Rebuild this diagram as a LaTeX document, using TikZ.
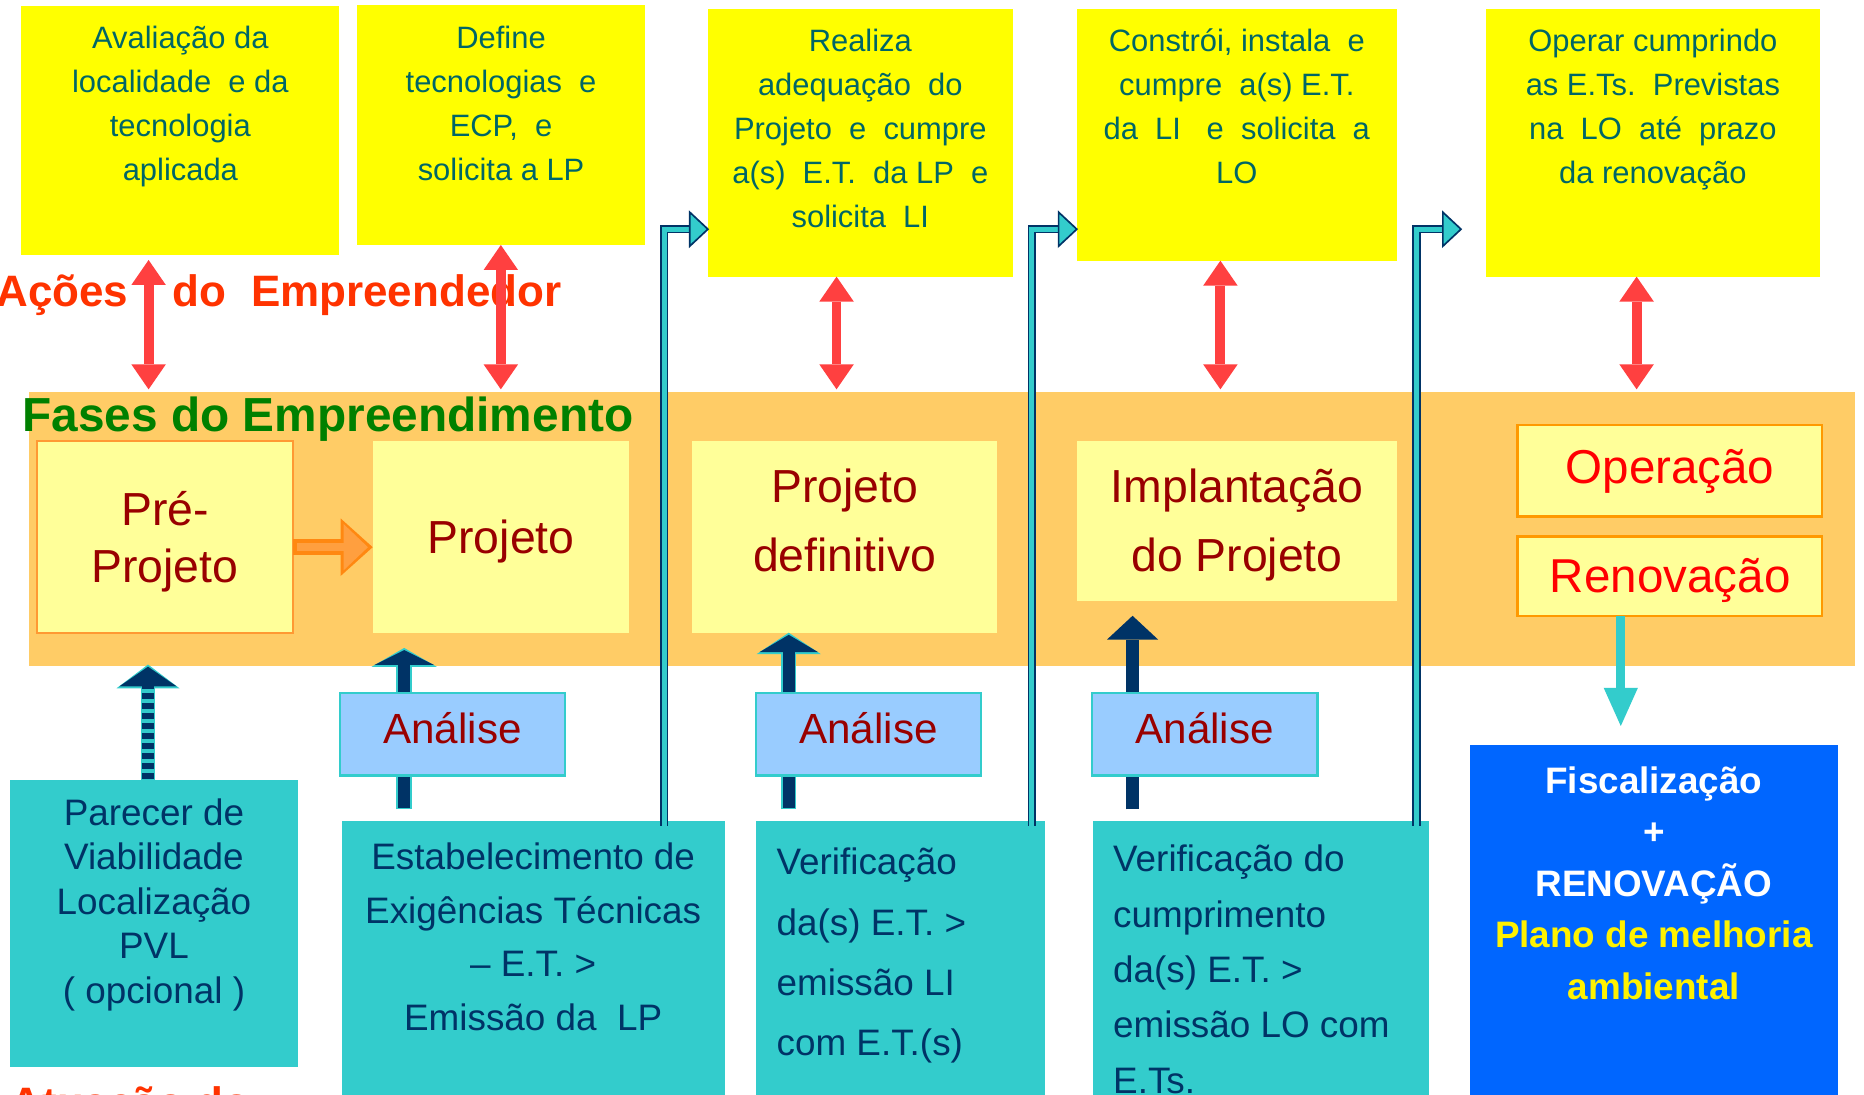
\documentclass[tikz,border=0pt]{standalone}
\usepackage{fontspec}
\setmainfont{Liberation Sans}
\usetikzlibrary{arrows.meta,calc}
\definecolor{ytop}{HTML}{FFFF00}
\definecolor{ttxt}{HTML}{006666}
\definecolor{rarr}{HTML}{FF4040}
\definecolor{ttl}{HTML}{FF3300}
\definecolor{bandc}{HTML}{FFCC66}
\definecolor{fgreen}{HTML}{008000}
\definecolor{lyel}{HTML}{FFFF99}
\definecolor{dred}{HTML}{990000}
\definecolor{obord}{HTML}{FF9933}
\definecolor{obord2}{HTML}{FF9900}
\definecolor{lblue}{HTML}{99CCFF}
\definecolor{tealc}{HTML}{33CCCC}
\definecolor{navy}{HTML}{003366}
\definecolor{bblue}{HTML}{0066FF}
\definecolor{oarrout}{HTML}{FF8811}
\definecolor{oarrin}{HTML}{FF9F3F}
\definecolor{pred}{HTML}{FF0000}
\tikzset{
  box/.style={anchor=north west, inner sep=0pt, outer sep=0pt},
  txt/.style={inner sep=0pt, outer sep=0pt},
  toptxt/.style={txt, text=ttxt, font=\fontsize{26}{37}\selectfont, align=center, anchor=north},
  phtxt/.style={txt, text=dred, align=center},
  antxt/.style={txt, text=dred, anchor=base, font=\fontsize{35.5}{40}\selectfont},
  bottxt/.style={txt, text=navy},
  redarr/.style={draw=rarr, line width=8.3pt, {Triangle[width=29pt,length=21pt,line width=0pt]}-{Triangle[width=29pt,length=21pt,line width=0pt]}},
  bracket/.style={draw=navy, line width=1.4pt, double=tealc, double distance=4.2pt, line join=miter},
  brhead/.style={draw=navy, fill=tealc, line width=1.4pt, line join=miter},
}
\begin{document}
\begin{tikzpicture}[x=1pt,y=-1pt]
\useasboundingbox (0,0) rectangle (1568,921);
\clip (0,0) rectangle (1568,921);
\fill[white] (0,0) rectangle (1568,921);

% ---------- top action boxes
\node[box, fill=ytop, minimum width=267.4pt, minimum height=209.5pt] (t1) at (18,5) {};
\node[box, fill=ytop, minimum width=242.2pt, minimum height=201.9pt] (t2) at (300.4,4.2) {};
\node[box, fill=ytop, minimum width=256.5pt, minimum height=224.8pt] (t3) at (595.5,7.9) {};
\node[box, fill=ytop, minimum width=269.2pt, minimum height=211.4pt] (t4) at (905.8,7.9) {};
\node[box, fill=ytop, minimum width=280.8pt, minimum height=224.8pt] (t5) at (1250,7.9) {};
\node[toptxt] (t1x) at (151.7,14.7) {\strut Avaliação da\\\strut localidade\ \ e da\\\strut tecnologia\\\strut aplicada};
\node[toptxt] (t2x) at (421.5,14.7) {\strut Define\\\strut tecnologias\ \ e\\\strut ECP,\ \ e\\\strut solicita a LP};
\node[toptxt] (t3x) at (723.7,17.6) {\strut Realiza\\\strut adequação\ \ do\\\strut Projeto\ \ e\ \ cumpre\\\strut a(s)\ \ E.T.\ \ da LP\ \ e\\\strut solicita\ \ LI};
\node[toptxt] (t4x) at (1040.4,17.6) {\strut Constrói, instala\ \ e\\\strut cumpre\ \ a(s) E.T.\\\strut da\ \ LI\ \ \ e\ \ solicita\ \ a\\\strut LO};
\node[toptxt] (t5x) at (1390.4,17.6) {\strut Operar cumprindo\\\strut as E.Ts.\ \ Previstas\\\strut na\ \ LO\ \ até\ \ prazo\\\strut da renovação};

% ---------- band
\node[box, fill=bandc, minimum width=1535.6pt, minimum height=230pt] (band) at (24.4,330) {};

% ---------- titles
\node[txt, anchor=base west, text=ttl, font=\bfseries\fontsize{37}{41}\selectfont] (acoes) at (-3,258) {Ações\hspace{37pt}do\hspace{21pt}Empreendedor};
\node[txt, anchor=base west, text=fgreen, font=\bfseries\fontsize{40.2}{44}\selectfont] (fases) at (19,363) {Fases do Empreendimento};

% ---------- red double arrows
\coordinate (rx1) at (125,0);
\coordinate (rx2) at (421.3,0);
\coordinate (rx3) at (703.7,0);
\coordinate (rx4) at (1026.6,0);
\coordinate (rx5) at (1376.7,0);
\draw[redarr] ($(t1.south -| rx1)+(0,4.2)$) -- ($(band.north -| rx1)+(0,-2.5)$);
\draw[redarr] (t2.south -| rx2) -- ($(band.north -| rx2)+(0,-2.5)$);
\draw[redarr] (t3.south -| rx3) -- ($(band.north -| rx3)+(0,-2.5)$);
\draw[redarr] (t4.south -| rx4) -- ($(band.north -| rx4)+(0,-2.5)$);
\draw[redarr] (t5.south -| rx5) -- ($(band.north -| rx5)+(0,-2.5)$);

% ---------- phase boxes
\node[box, fill=lyel, draw=obord, line width=1.5pt, minimum width=215.9pt, minimum height=161.7pt] (pre) at (30.8,371) {};
\node[box, fill=lyel, minimum width=216pt, minimum height=161.2pt] (proj) at (313.5,371) {};
\node[box, fill=lyel, minimum width=256pt, minimum height=161.2pt] (pdef) at (582.5,371) {};
\node[box, fill=lyel, minimum width=268.8pt, minimum height=134.3pt] (impl) at (906.2,371) {};
\node[box, fill=lyel, draw=obord2, line width=2pt, minimum width=256.3pt, minimum height=77.1pt] (oper) at (1276.6,357.5) {};
\node[box, fill=lyel, draw=obord2, line width=2pt, minimum width=256.3pt, minimum height=66.8pt] (renov) at (1276.6,451.4) {};
\node[phtxt, anchor=north, font=\fontsize{39}{48.2}\selectfont] (pret) at (138.75,407.9) {\strut Pré-\\\strut Projeto};
\node[phtxt, anchor=base, font=\fontsize{39}{46}\selectfont] (projt) at (421.5,466) {Projeto};
\node[phtxt, anchor=north, font=\fontsize{39}{58.1}\selectfont] (pdeft) at (710.5,382.1) {\strut Projeto\\\strut definitivo};
\node[phtxt, anchor=north, font=\fontsize{39}{58.1}\selectfont] (implt) at (1040.6,382.1) {\strut Implantação\\\strut do Projeto};
\node[txt, anchor=base, text=pred, font=\fontsize{40}{46}\selectfont] (opert) at (1404.8,406.6) {Operação};
\node[txt, anchor=base, text=pred, font=\fontsize{40}{46}\selectfont] (renovt) at (1405,498.5) {Renovação};

% ---------- orange arrow
\coordinate (oy) at (0,460.3);
\draw[oarrout, line width=13pt, -{Triangle[width=48.5pt,length=27pt,line width=0pt]}] (pre.east |- oy) -- (proj.west |- oy);
\draw[oarrin, line width=7pt, -{Triangle[width=39pt,length=20.5pt,line width=0pt]}] ($(pre.east |- oy)+(3,0)$) -- ($(proj.west |- oy)+(-4,0)$);

% ---------- bottom boxes
\node[box, fill=tealc, minimum width=242.5pt, minimum height=241.8pt] (b1) at (8.2,656) {};
\node[box, fill=tealc, minimum width=322.1pt, minimum height=240pt] (b2) at (287.4,690.6) {};
\node[box, fill=tealc, minimum width=243pt, minimum height=240pt] (b3) at (636,690.6) {};
\node[box, fill=tealc, minimum width=283.3pt, minimum height=240pt] (b4) at (919,690.6) {};
\node[box, fill=bblue, minimum width=309.3pt, minimum height=304pt] (b5) at (1236.5,626.7) {};
\node[bottxt, anchor=north, align=center, font=\fontsize{31}{37.5}\selectfont] (b1t) at (129.5,667.75) {\strut Parecer de\\\strut Viabilidade\\\strut Localização\\\strut PVL\\\strut ( opcional )};
\node[bottxt, anchor=north, align=center, font=\fontsize{31}{44.9}\selectfont] (b2t) at (448.5,700.4) {\strut Estabelecimento de\\\strut Exigências Técnicas\\\strut – E.T. >\\\strut Emissão da\ \ LP};
\node[bottxt, anchor=north west, align=left, font=\fontsize{31}{50.7}\selectfont] (b3t) at (653.3,700.5) {\strut Verificação\\\strut da(s) E.T. >\\\strut emissão LI\\\strut com E.T.(s)};
\node[bottxt, anchor=north west, align=left, font=\fontsize{31}{46.6}\selectfont] (b4t) at (936.4,700.6) {\strut Verificação do\\\strut cumprimento\\\strut da(s) E.T. >\\\strut emissão LO com\\\strut E.Ts.};
\node[txt, anchor=north, align=center, text=white, font=\bfseries\fontsize{31}{43.3}\selectfont] (b5t) at (1391.2,637) {\strut Fiscalização\\\strut +\\\strut RENOVAÇÃO\\\strut\textcolor{yellow}{Plano de melhoria}\\\strut\textcolor{yellow}{ambiental}};

% ---------- up arrows
\coordinate (ax0) at (124.5,0);
\coordinate (ax1) at (340,0);
\coordinate (ax2) at (663.5,0);
\coordinate (ax3) at (952.7,0);
% Parecer (striped)
\draw[tealc, line width=12pt, -{Triangle[width=53pt,length=20pt,line width=0pt]}] (b1.north -| ax0) -- ($(pre.south -| ax0)+(0,26.3)$);
\draw[navy, line width=10pt, dash pattern=on 5pt off 3.4pt, -{Triangle[width=48pt,length=16.5pt,line width=0pt]}] ($(b1.north -| ax0)+(0,-1)$) -- ($(pre.south -| ax0)+(0,28.1)$);
% Analise 1
\draw[tealc, line width=13pt, -{Triangle[width=55pt,length=16pt,line width=0pt]}] ($(b2.north -| ax1)+(0,-9.8)$) -- ($(proj.south -| ax1)+(0,12.8)$);
\draw[navy, line width=10pt, -{Triangle[width=50pt,length=12.5pt,line width=0pt]}] ($(b2.north -| ax1)+(0,-11.3)$) -- ($(proj.south -| ax1)+(0,14.6)$);
% Analise 2
\draw[tealc, line width=13pt, -{Triangle[width=54pt,length=18pt,line width=0pt]}] ($(b3.north -| ax2)+(0,-9.8)$) -- (pdef.south -| ax2);
\draw[navy, line width=10pt, -{Triangle[width=49pt,length=14.5pt,line width=0pt]}] ($(b3.north -| ax2)+(0,-11.3)$) -- ($(pdef.south -| ax2)+(0,1.8)$);
% Analise 3
\draw[navy, line width=11.5pt, -{Triangle[width=43pt,length=20pt,line width=0pt]}] ($(b4.north -| ax3)+(0,-9.8)$) -- ($(impl.south -| ax3)+(0,12.7)$);

% ---------- Analise boxes
\node[box, fill=lblue, draw=tealc, line width=2pt, minimum width=189.4pt, minimum height=69.5pt] (an1) at (286,582.7) {};
\node[box, fill=lblue, draw=tealc, line width=2pt, minimum width=189.6pt, minimum height=69.5pt] (an2) at (635.8,582.7) {};
\node[box, fill=lblue, draw=tealc, line width=2pt, minimum width=189.6pt, minimum height=69.5pt] (an3) at (918.6,582.7) {};
\node[antxt] (an1t) at (380.7,625.3) {Análise};
\node[antxt] (an2t) at (730.6,625.3) {Análise};
\node[antxt] (an3t) at (1013.4,625.3) {Análise};

% ---------- teal down arrow
\coordinate (tx) at (1363.4,0);
\draw[tealc, line width=7.6pt, -{Triangle[width=28.7pt,length=32pt,line width=0pt]}] (renov.south -| tx) -- ($(b5.north -| tx)+(0,-16)$);

% ---------- bracket arrows
\coordinate (by) at (0,192.8);
\coordinate (bx1) at (558.8,0);
\coordinate (bx2) at (868.1,0);
\coordinate (bx3) at (1191.6,0);
\coordinate (h1) at (t3.west |- by);
\coordinate (h2) at (t4.west |- by);
\coordinate (h3) at ($(t5.west |- by)+(-21,0)$);
\draw[bracket] ($(b2.north -| bx1)+(0,4.2)$) |- ($(h1)+(-15.3,0)$);
\draw[brhead] (h1) -- ++(-15.3,-14.3) -- ++(0,28.6) -- cycle;
\draw[bracket] ($(b3.north -| bx2)+(0,4.2)$) |- ($(h2)+(-15.3,0)$);
\draw[brhead] (h2) -- ++(-15.3,-14.3) -- ++(0,28.6) -- cycle;
\draw[bracket] ($(b4.north -| bx3)+(0,4.2)$) |- ($(h3)+(-15.3,0)$);
\draw[brhead] (h3) -- ++(-15.3,-14.3) -- ++(0,28.6) -- cycle;

% ---------- clipped bottom title
\node[txt, anchor=base west, text=ttl, font=\bfseries\fontsize{37}{41}\selectfont] (atua) at (9,941) {Atuação do};
\end{tikzpicture}
\end{document}
